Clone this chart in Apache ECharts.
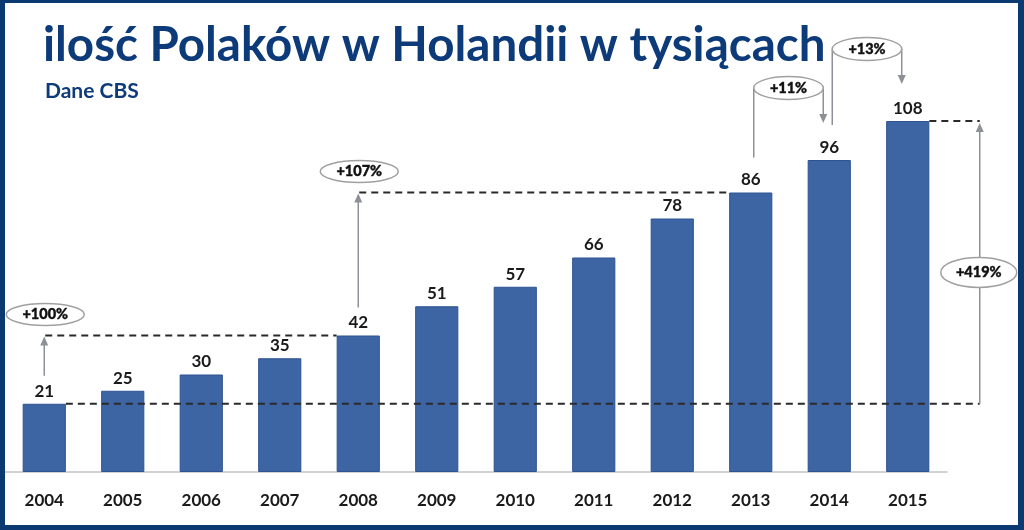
<!DOCTYPE html>
<html><head><meta charset="utf-8">
<script src="https://cdn.jsdelivr.net/npm/echarts@6/dist/echarts.min.js"></script>
<style>
html,body{margin:0;padding:0;background:#fff;}
#chart{position:absolute;left:0;top:0;width:1024px;height:530px;}
</style></head><body>
<div id="chart"></div>
<script>
// ---- data ----
const years = ['2004','2005','2006','2007','2008','2009','2010','2011','2012','2013','2014','2015'];
const polesThousands = [21, 25, 30, 35, 42, 51, 57, 66, 78, 86, 96, 108];
// growth annotations: [fromIndex, toIndex, label]
const longSpans = [[0, 4, '+100%'], [4, 9, '+107%']];
const shortSpans = [[9, 10, '+11%'], [10, 11, '+13%']];
const totalSpan = [0, 11, '+419%'];
const titleText = 'ilość Polaków w Holandii w tysiącach';
const subtitleText = 'Dane CBS';

const FONT = 'Lato, "Open Sans", sans-serif';
const BAR_W = 0.55;
const chart = echarts.init(document.getElementById('chart'), null, {renderer: 'canvas'});

chart.setOption({
  animation: false,
  backgroundColor: '#ffffff',
  title: [
    {text: titleText, left: 38, top: 17, textStyle: {fontFamily: FONT, fontSize: 47.5, fontWeight: 'bold', color: '#0d3b79'}},
    {text: subtitleText, left: 40, top: 76, textStyle: {fontFamily: FONT, fontSize: 21, fontWeight: 'bold', color: '#0d3b79'}}
  ],
  grid: {left: 5, right: 77, top: 82, bottom: 58, containLabel: false, outerBoundsMode: 'none'},
  xAxis: {
    type: 'category', data: years,
    axisLine: {lineStyle: {color: '#c4c4c4', width: 1.5}},
    axisTick: {show: false},
    axisLabel: {margin: 20, fontFamily: FONT, fontSize: 17, fontWeight: 'bold', color: '#1a1a1a'}
  },
  yAxis: {type: 'value', min: 0, max: 120, show: false, splitLine: {show: false}},
  series: [{
    type: 'bar', data: polesThousands, barWidth: (BAR_W * 100) + '%',
    itemStyle: {color: '#3d65a4', borderColor: '#2e5390', borderWidth: 1},
    label: {show: true, position: 'top', distance: 4, fontFamily: FONT, fontSize: 17, fontWeight: 'bold', color: '#1a1a1a'}
  }]
});

function px(i, v) { return chart.convertToPixel({seriesIndex: 0}, [i, v]); }
const catW = px(1, 0)[0] - px(0, 0)[0];
const half = catW * BAR_W / 2;
const X = i => px(i, 0)[0];
const Y = i => px(i, polesThousands[i])[1];

const DASH = {stroke: '#2a2a2a', lineWidth: 2, lineDash: [7, 5]};
const GRAY = '#8d9197';
const g = [];
function dashed(x1, y, x2) { g.push({type: 'line', z: 20, shape: {x1, y1: y, x2, y2: y}, style: DASH}); }
function gline(pts) { g.push({type: 'polyline', z: 21, shape: {points: pts}, style: {stroke: GRAY, lineWidth: 1.5, fill: null}}); }
function arrowHead(x, y, dir) { // dir -1 up, +1 down ; (x,y) tip
  g.push({type: 'polygon', z: 22, shape: {points: [[x, y], [x - 4, y - dir * 9], [x + 4, y - dir * 9]]}, style: {fill: GRAY}});
}
function bubble(cx, cy, rx, ry, text) {
  g.push({type: 'ellipse', z: 23, shape: {cx, cy, rx, ry}, style: {fill: '#fff', stroke: '#a0a0a0', lineWidth: 1.5}});
  g.push({type: 'text', z: 24, x: cx, y: cy, style: {text, align: 'center', verticalAlign: 'middle', textAlign: 'center', textVerticalAlign: 'middle', font: '900 14.5px ' + FONT, fill: '#111', stroke: '#111', lineWidth: 0.4}});
}

longSpans.forEach(([a, b, t]) => {
  const xa = X(a), xb = X(b), ya = Y(a), yb = Y(b);
  dashed(xa + 1, yb, xb - half);
  gline([[xa, ya - 28], [xa, yb + 6]]);
  arrowHead(xa, yb + 1, -1);
  bubble(xa + 1, yb - 21, 39, 11, t);
});

shortSpans.forEach(([a, b, t]) => {
  const xl = X(a) + 3, xr = X(b) - 6, ya = Y(a), yb = Y(b);
  const ey = yb - 72;
  gline([[xl, ya - 35], [xl, ey]]);
  gline([[xr, ey], [xr, yb - 44]]);
  arrowHead(xr, yb - 37, 1);
  bubble((xl + xr) / 2, ey, (xr - xl) / 2, 11.5, t);
});

(function () {
  const [a, b, t] = totalSpan;
  const xr = X(b) + 72, ya = Y(a), yb = Y(b);
  dashed(X(a) + half, ya, xr);
  dashed(X(b) + half, yb, xr);
  gline([[xr, ya], [xr, yb + 6]]);
  arrowHead(xr, yb + 2, -1);
  bubble(xr - 1, (ya + yb) / 2 + 10, 38, 15, t);
})();

// frame
g.push({type: 'rect', z: 30, shape: {x: 0, y: 0, width: 1024, height: 3}, style: {fill: '#0b3a73'}});
g.push({type: 'rect', z: 30, shape: {x: 0, y: 525, width: 1024, height: 5}, style: {fill: '#0b3a73'}});
g.push({type: 'rect', z: 30, shape: {x: 0, y: 0, width: 5, height: 530}, style: {fill: '#0b3a73'}});
g.push({type: 'rect', z: 30, shape: {x: 1018, y: 0, width: 6, height: 530}, style: {fill: '#0b3a73'}});

chart.setOption({graphic: g});
</script>
</body></html>
